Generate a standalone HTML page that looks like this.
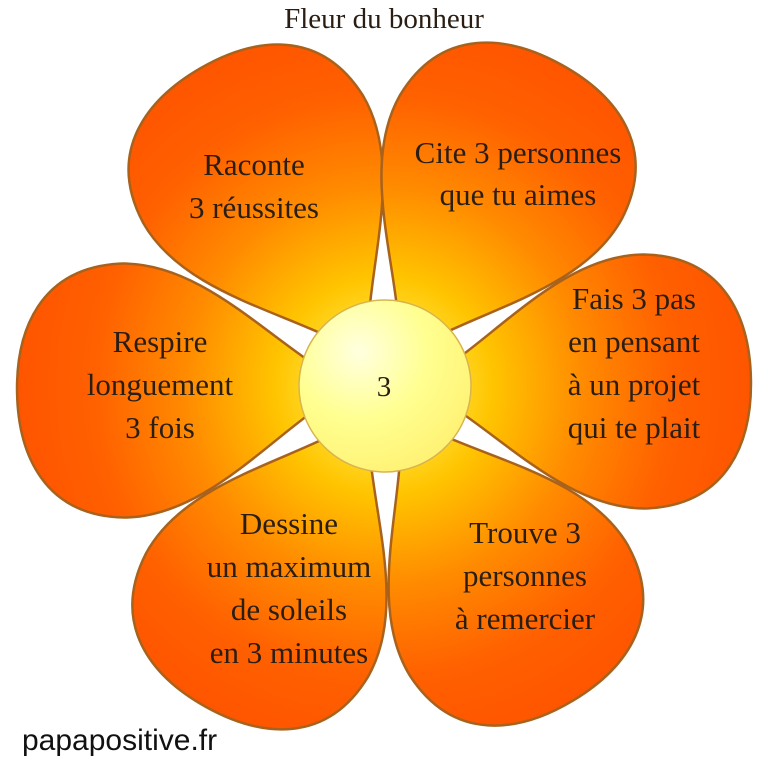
<!DOCTYPE html>
<html><head><meta charset="utf-8"><style>
html,body{margin:0;padding:0;background:#fff;}
svg{display:block;}
text{font-family:"Liberation Serif",serif;fill:#2a1e14;}
</style></head><body>
<svg width="768" height="768" viewBox="0 0 768 768">
<defs>
<radialGradient id="pg" gradientUnits="userSpaceOnUse" cx="0" cy="0" r="365">
<stop offset="0" stop-color="#ffff70"/>
<stop offset="0.3" stop-color="#ffc400"/>
<stop offset="0.55" stop-color="#ff8a00"/>
<stop offset="0.8" stop-color="#ff6000"/>
<stop offset="1" stop-color="#ff5500"/>
</radialGradient>
<radialGradient id="cg" cx="0.35" cy="0.3" r="0.8">
<stop offset="0" stop-color="#ffffe0"/>
<stop offset="0.5" stop-color="#ffff90"/>
<stop offset="1" stop-color="#fff070"/>
</radialGradient>
<path id="petal" d="M 30,0 C 100,-30 172,-128 262,-127 C 342,-124 367,-62 367,0 C 367,62 342,124 262,127 C 172,128 100,30 30,0 Z"/>
</defs>
<g fill="url(#pg)" stroke="#a8621c" stroke-width="2.5">
<use href="#petal" transform="translate(384,386) rotate(-120)"/>
<use href="#petal" transform="translate(384,386) rotate(-61)"/>
<use href="#petal" transform="translate(384,386) rotate(-1)"/>
<use href="#petal" transform="translate(384,386) rotate(59)"/>
<use href="#petal" transform="translate(384,386) rotate(119)"/>
<use href="#petal" transform="translate(384,386) rotate(179)"/>
</g>
<circle cx="385" cy="386" r="86" fill="url(#cg)" stroke="#d8b450" stroke-width="1.5"/>
<text x="384" y="396" font-size="29" text-anchor="middle">3</text>
<text x="384" y="28" font-size="29" text-anchor="middle">Fleur du bonheur</text>
<g font-size="31" text-anchor="middle">
<text x="254" y="175">Raconte</text>
<text x="254" y="218">3 réussites</text>
<text x="518" y="163">Cite 3 personnes</text>
<text x="518" y="205">que tu aimes</text>
<text x="634" y="309">Fais 3 pas</text>
<text x="634" y="352">en pensant</text>
<text x="634" y="395">à un projet</text>
<text x="634" y="438">qui te plait</text>
<text x="160" y="352">Respire</text>
<text x="160" y="395">longuement</text>
<text x="160" y="438">3 fois</text>
<text x="289" y="534">Dessine</text>
<text x="289" y="577">un maximum</text>
<text x="289" y="620">de soleils</text>
<text x="289" y="663">en 3 minutes</text>
<text x="525" y="543">Trouve 3</text>
<text x="525" y="586">personnes</text>
<text x="525" y="629">à remercier</text>
</g>
<text x="22" y="750" font-size="30" style="font-family:'Liberation Sans',sans-serif;fill:#111;">papapositive.fr</text>
</svg>
</body></html>
